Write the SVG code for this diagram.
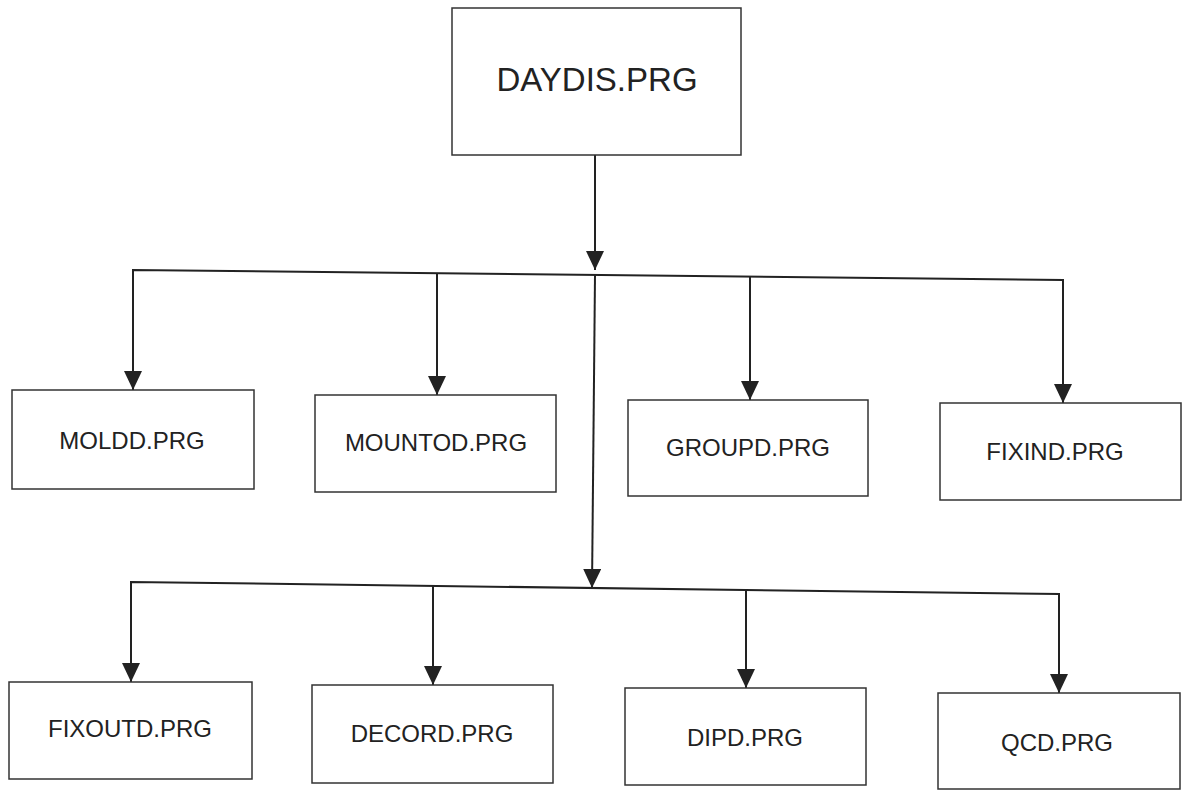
<svg xmlns="http://www.w3.org/2000/svg" width="1190" height="790" viewBox="0 0 1190 790">
<style>
.box{fill:#fff;stroke:#333;stroke-width:1.5}
.lbl{font-family:"Liberation Sans",Arial,sans-serif;font-size:24px;fill:#222;text-anchor:middle}
.big{font-size:33px}
.con{fill:none;stroke:#222;stroke-width:2}
</style>
<defs>
<marker id="ah" markerUnits="userSpaceOnUse" markerWidth="20" markerHeight="18" refX="19" refY="9" orient="auto">
<path d="M0,0 L19,9 L0,18 Z" fill="#222"/>
</marker>
</defs>
<rect width="1190" height="790" fill="#fff"/>
<g id="connectors">
<line class="con" x1="595" y1="155" x2="595" y2="270" marker-end="url(#ah)"/>
<polyline class="con" points="133,390 133,270 1063,280 1063,403" marker-end="url(#ah)"/>
<line class="con" x1="133" y1="275" x2="133" y2="390" marker-end="url(#ah)"/>
<line class="con" x1="437" y1="273" x2="437" y2="395" marker-end="url(#ah)"/>
<line class="con" x1="750" y1="277" x2="750" y2="400" marker-end="url(#ah)"/>
<line class="con" x1="595" y1="275" x2="592" y2="588" marker-end="url(#ah)"/>
<polyline class="con" points="131,682 131,582 1059,594 1059,693" marker-end="url(#ah)"/>
<line class="con" x1="131" y1="590" x2="131" y2="682" marker-end="url(#ah)"/>
<line class="con" x1="433" y1="586" x2="433" y2="685" marker-end="url(#ah)"/>
<line class="con" x1="746" y1="590" x2="746" y2="688" marker-end="url(#ah)"/>
</g>
<g id="daydis"><rect class="box" x="452" y="8" width="289" height="147"/><text class="lbl big" x="597" y="91">DAYDIS.PRG</text></g>
<g id="moldd"><rect class="box" x="12" y="390" width="242" height="99"/><text class="lbl" x="132" y="449">MOLDD.PRG</text></g>
<g id="mountod"><rect class="box" x="315" y="395" width="241" height="97"/><text class="lbl" x="436" y="451">MOUNTOD.PRG</text></g>
<g id="groupd"><rect class="box" x="628" y="400" width="240" height="96"/><text class="lbl" x="748" y="456">GROUPD.PRG</text></g>
<g id="fixind"><rect class="box" x="940" y="403" width="241" height="97"/><text class="lbl" x="1055" y="460">FIXIND.PRG</text></g>
<g id="fixoutd"><rect class="box" x="9" y="682" width="243" height="97"/><text class="lbl" x="130" y="737">FIXOUTD.PRG</text></g>
<g id="decord"><rect class="box" x="312" y="685" width="241" height="98"/><text class="lbl" x="432" y="742">DECORD.PRG</text></g>
<g id="dipd"><rect class="box" x="625" y="688" width="241" height="97"/><text class="lbl" x="745" y="746">DIPD.PRG</text></g>
<g id="qcd"><rect class="box" x="938" y="693" width="242" height="96"/><text class="lbl" x="1057" y="751">QCD.PRG</text></g>
</svg>
